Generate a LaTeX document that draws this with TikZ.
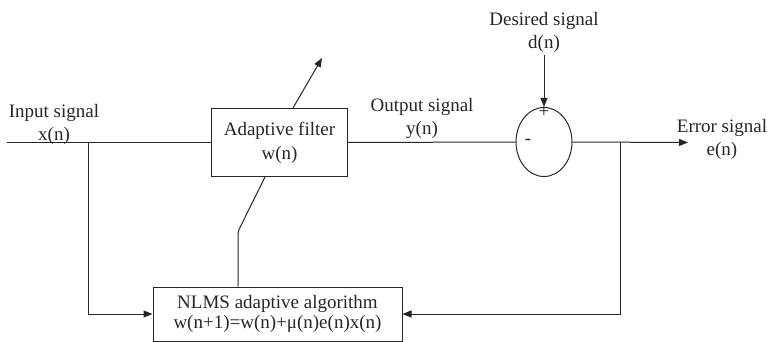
\documentclass[tikz,border=0pt]{standalone}
\usepackage{fontspec}
\setmainfont{Liberation Serif}
\usetikzlibrary{positioning,shapes.geometric,arrows.meta}

\begin{document}
\begin{tikzpicture}[x=1pt,y=-1pt,line width=1pt,color=black!85,
  font=\fontsize{19}{23}\selectfont,
  block/.style={draw,rectangle,inner sep=2pt,align=center},
  lbl/.style={align=center,anchor=base,inner sep=0pt},
  arr/.style={-{Triangle[length=9pt,width=7pt]}}]
\useasboundingbox (0,0) rectangle (768,342);
% blocks
\node[block,minimum width=136,minimum height=68] (filter) at (279.5,142.5) {Adaptive filter\\[1pt]w(n)};
\node[block,ellipse,inner sep=0pt,minimum width=56,minimum height=69] (sum) at (544,142) {};
\node[block,minimum width=249,minimum height=54] (algo) at (277.5,314) {NLMS adaptive algorithm\\[-3pt]w(n+1)=w(n)+μ(n)e(n)x(n)};
% labels (base = last line)
\node[lbl] (inlbl) at (54,140) {Input signal\\x(n)};
\node[lbl] (outlbl) at (422,135) {Output signal\\y(n)};
\node[lbl] (deslbl) at (544,49) {Desired signal\\d(n)};
\node[lbl] (errlbl) at (722,155) {Error signal\\e(n)};
\node[inner sep=0pt] (plus) at (544,112) {+};
\node[inner sep=0pt] (minus) at (528,142) {-};
% free ends
\coordinate (src) at (7,142.5);
\coordinate (jin) at (88,142.5);
\coordinate (jerr) at (620,142.5);
\coordinate (sink) at (688,142.5);
\coordinate (des) at (544,55);
\coordinate (adtip) at (322,58);
% connectors
\draw (src) -- (filter.west);
\draw[arr] (jin) |- (algo.west);
\draw (filter.east) -- (sum.west);
\draw[arr] (sum.east) -- (sink);
\draw[arr] (jerr) |- (algo.east);
\draw[arr] (des) -- (sum.north);
\draw[arr] ([xshift=13.5pt]filter.north) -- (adtip);
\draw[rounded corners=2pt] ([xshift=-39.5pt]algo.north) -- ++(0,-55) -- ([xshift=-14.5pt]filter.south);
\end{tikzpicture}
\end{document}
